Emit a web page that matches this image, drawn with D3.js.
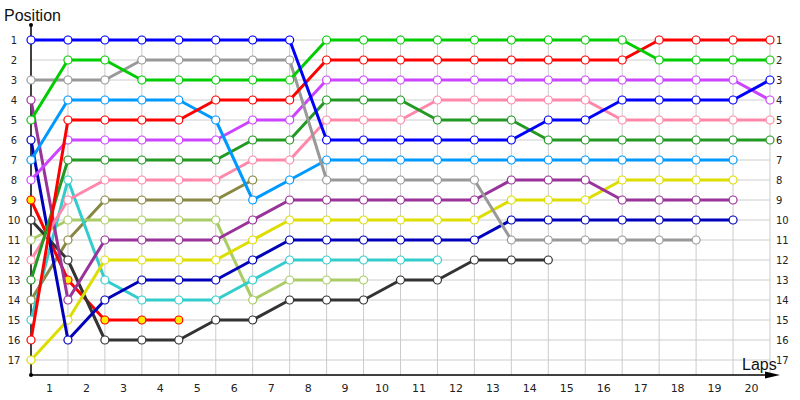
<!DOCTYPE html>
<html>
<head>
<meta charset="utf-8">
<script src="https://cdn.jsdelivr.net/npm/d3@7"></script>
<style>
  body { margin: 0; background: #fff; }
  svg { display: block; font-family: "DejaVu Sans", Verdana, sans-serif; }
</style>
</head>
<body>
<svg id="chart"></svg>
<script>
const width = 800;
const height = 400;

// lap numbers (0 = start grid) and position ticks
const laps = d3.range(0, 21);
const lapLabels = d3.range(1, 21);
const positionTicks = d3.range(1, 18);

// one array per car: position at each lap, null once retired
const carBlue      = [1, 1, 1, 1, 1, 1, 1, 1, 6, 6, 6, 6, 6, 6, 5, 5, 4, 4, 4, 4, 3];
const carGrey      = [3, 3, 3, 2, 2, 2, 2, 2, 8, 8, 8, 8, 8, 11, 11, 11, 11, 11, 11];
const carGreen     = [5, 2, 2, 3, 3, 3, 3, 3, 1, 1, 1, 1, 1, 1, 1, 1, 1, 2, 2, 2, 2];
const carRed       = [16, 5, 5, 5, 5, 4, 4, 4, 2, 2, 2, 2, 2, 2, 2, 2, 2, 1, 1, 1, 1];
const carLightBlue = [7, 4, 4, 4, 4, 5, 9, 8, 7, 7, 7, 7, 7, 7, 7, 7, 7, 7, 7, 7];
const carViolet    = [8, 6, 6, 6, 6, 6, 5, 5, 3, 3, 3, 3, 3, 3, 3, 3, 3, 3, 3, 3, 4];
const carDarkGreen = [13, 7, 7, 7, 7, 7, 6, 6, 4, 4, 4, 5, 5, 5, 6, 6, 6, 6, 6, 6, 6];
const carPink      = [12, 9, 8, 8, 8, 8, 7, 7, 5, 5, 5, 4, 4, 4, 4, 4, 5, 5, 5, 5, 5];
const carCyan      = [15, 8, 13, 14, 14, 14, 13, 12, 12, 12, 12, 12];
const carLightGreen = [11, 10, 10, 10, 10, 10, 14, 13, 13, 13];
const carOlive     = [14, 11, 9, 9, 9, 9, 8];
const carBlack     = [10, 12, 16, 16, 16, 15, 15, 14, 14, 14, 13, 13, 12, 12, 12];
const carRedYellow = [9, 13, 15, 15, 15];
const carPurple    = [4, 14, 11, 11, 11, 11, 10, 9, 9, 9, 9, 9, 9, 8, 8, 8, 9, 9, 9, 9];
const carYellow    = [17, 15, 12, 12, 12, 12, 11, 10, 10, 10, 10, 10, 10, 9, 9, 9, 8, 8, 8, 8];
const carDarkBlue  = [6, 16, 14, 13, 13, 13, 12, 11, 11, 11, 11, 11, 11, 10, 10, 10, 10, 10, 10, 10];

const cars = [
  carOlive, carLightGreen, carCyan, carRedYellow, carBlack, carYellow, carDarkBlue,
  carPurple, carPink, carDarkGreen, carViolet, carLightBlue, carGrey, carRed, carGreen, carBlue
];
const lineColors = [
  "#888844", "#aacc66", "#33cccc", "#ff0000", "#333333", "#dddd00", "#0000bb",
  "#993399", "#ff88aa", "#229922", "#cc44ff", "#0099ff", "#999999", "#ff0000", "#00cc00", "#0000ff"
];
const markerFills = [
  "#fff", "#fff", "#fff", "#ffee00", "#fff", "#fff", "#fff",
  "#fff", "#fff", "#fff", "#fff", "#fff", "#fff", "#fff", "#fff", "#fff"
];

const margin = {top: 40, right: 30, bottom: 40, left: 31};

const svg = d3.select("#chart").attr("width", width).attr("height", height);

const x = d3.scaleLinear().domain([0, 20]).range([margin.left, width - margin.right]);
const y = d3.scaleLinear().domain([1, 17]).range([margin.top, height - margin.bottom]);
const axisY = 375;

// grid
svg.append("g")
  .selectAll("line")
  .data(positionTicks)
  .join("line")
  .attr("x1", x(0))
  .attr("x2", x(20))
  .attr("y1", (d) => y(d))
  .attr("y2", (d) => y(d))
  .attr("stroke", "#cccccc")
  .attr("stroke-width", 1);

svg.append("g")
  .selectAll("line")
  .data(laps.slice(1))
  .join("line")
  .attr("x1", (d) => x(d))
  .attr("x2", (d) => x(d))
  .attr("y1", y(1) - 5)
  .attr("y2", axisY)
  .attr("stroke", "#cccccc")
  .attr("stroke-width", 1);

// position labels left and right
svg.append("g")
  .selectAll("text")
  .data(positionTicks)
  .join("text")
  .attr("x", 14)
  .attr("y", (d) => y(d))
  .attr("text-anchor", "middle")
  .attr("dominant-baseline", "central")
  .attr("font-size", "10px")
  .attr("fill", "#222")
  .text((d) => d);

svg.append("g")
  .selectAll("text")
  .data(positionTicks)
  .join("text")
  .attr("x", x(20) + 6)
  .attr("y", (d) => y(d))
  .attr("text-anchor", "start")
  .attr("dominant-baseline", "central")
  .attr("font-size", "10px")
  .attr("fill", "#222")
  .text((d) => d);

// lap labels sit in the middle of each lap
svg.append("g")
  .selectAll("text")
  .data(lapLabels)
  .join("text")
  .attr("x", (d) => x(d - 0.5))
  .attr("y", 388)
  .attr("text-anchor", "middle")
  .attr("dominant-baseline", "central")
  .attr("font-size", "11px")
  .attr("fill", "#222")
  .text((d) => d);

// axes
svg.append("line")
  .attr("x1", x(0)).attr("x2", x(0))
  .attr("y1", 25).attr("y2", axisY)
  .attr("stroke", "#000").attr("stroke-width", 1.5);

svg.append("line")
  .attr("x1", x(0)).attr("x2", 772)
  .attr("y1", axisY).attr("y2", axisY)
  .attr("stroke", "#000").attr("stroke-width", 1.5);

svg.append("path")
  .attr("d", `M765,${axisY - 3.5} L780,${axisY} L765,${axisY + 3.5} Z`)
  .attr("fill", "#000");

svg.append("circle").attr("cx", x(0)).attr("cy", 25).attr("r", 2).attr("fill", "#000");
svg.append("circle").attr("cx", x(0)).attr("cy", axisY).attr("r", 2).attr("fill", "#000");

svg.append("text")
  .attr("x", 4)
  .attr("y", 21)
  .attr("font-family", "Liberation Sans, Arial, sans-serif")
  .attr("font-size", "16px")
  .attr("fill", "#111")
  .text("Position");

svg.append("text")
  .attr("x", 742)
  .attr("y", 370)
  .attr("font-family", "Liberation Sans, Arial, sans-serif")
  .attr("font-size", "16px")
  .attr("fill", "#111")
  .text("Laps");

// car lines
const line = d3.line()
  .x((d, i) => x(i))
  .y((d) => y(d));

const carGroups = svg.append("g")
  .selectAll("g")
  .data(cars)
  .join("g");

carGroups.append("path")
  .attr("d", (d) => line(d))
  .attr("fill", "none")
  .attr("stroke", (d, i) => lineColors[i])
  .attr("stroke-width", 3)
  .attr("stroke-linejoin", "round");

carGroups.each(function (d, i) {
  d3.select(this)
    .selectAll("circle")
    .data(d)
    .join("circle")
    .attr("cx", (p, lap) => x(lap))
    .attr("cy", (p) => y(p))
    .attr("r", 4)
    .attr("fill", markerFills[i])
    .attr("stroke", lineColors[i])
    .attr("stroke-width", 1.2);
});
</script>
</body>
</html>
